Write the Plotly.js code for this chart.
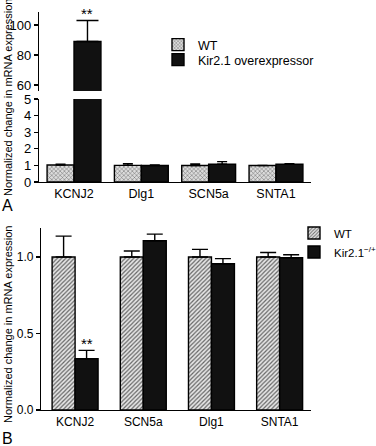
<!DOCTYPE html>
<html>
<head>
<meta charset="utf-8">
<script src="https://cdn.plot.ly/plotly-3.0.1.min.js"></script>
<style>html,body{margin:0;padding:0;background:#fff;}#chart{width:376px;height:446px;}</style>
</head>
<body>
<div id="chart"></div>
<script>
// ---------- Panel A data ----------
const catsA = ["KCNJ2", "Dlg1", "SCN5a", "SNTA1"];
const wtA = [1.02, 1.0, 0.99, 0.99];
const wtA_errTop = [1.07, 1.1, 1.08, 1.0];
const kirA = [89, 0.99, 1.07, 1.07];
const kirA_errTop = [103, 1.03, 1.23, 1.1];
const namesA = ["WT", "Kir2.1 overexpressor"];
const ticksA_low = [0, 1, 2, 3, 4, 5];
const ticksA_high = [60, 80, 100];

// ---------- Panel B data ----------
const catsB = ["KCNJ2", "SCN5a", "Dlg1", "SNTA1"];
const wtB = [1.0, 1.0, 1.0, 1.0];
const wtB_errTop = [1.137, 1.04, 1.05, 1.03];
const kirB = [0.335, 1.107, 0.956, 0.995];
const kirB_errTop = [0.39, 1.15, 0.99, 1.015];
const namesB = ["WT", "Kir2.1<sup>\u2212/+</sup>"];
const ticksB = [0, 0.5, 1.0];

const sig = "**";
const yTitle = "Normalized change in mRNA expression";

const W = 376, H = 446;
const px = v => v / W;
const py = v => 1 - v / H;
const FONT = "Liberation Sans, Arial, sans-serif";

const diff = (top, val) => top.map((t, i) => Math.max(0, t - val[i]));
const zeros = a => a.map(() => 0);

function barTrace(cats, vals, errTop, opts) {
  return Object.assign({
    type: "bar",
    x: cats,
    y: vals,
    error_y: {type: "data", symmetric: false, array: diff(errTop, vals), arrayminus: zeros(vals),
              color: "#000", thickness: 1.4, width: opts.capw || 5},
  }, opts.extra);
}

const wtPatA = {shape: "x", fgcolor: "#666", bgcolor: "#dcdcdc", size: 3, solidity: 0.3};
const wtPatB = {shape: "/", fgcolor: "#666", bgcolor: "#e6e6e6", size: 3, solidity: 0.4};
const lineBlk = {color: "#000", width: 1.4};

const wA = 0.4, wB = 0.337;
const traces = [];
// A lower
traces.push(barTrace(catsA, wtA, wtA_errTop, {capw: 5, extra: {name: namesA[0], xaxis: "x", yaxis: "y", width: wA, offset: -wA,
  marker: {color: "#bbb", pattern: wtPatA, line: lineBlk}, legend: "legend"}}));
traces.push(barTrace(catsA, kirA, kirA_errTop, {capw: 5, extra: {name: namesA[1], xaxis: "x", yaxis: "y", width: wA, offset: 0,
  marker: {color: "#111", line: lineBlk}, legend: "legend2"}}));
// A upper (broken axis)
traces.push(barTrace(catsA, wtA, wtA_errTop, {capw: 11, extra: {name: namesA[0], xaxis: "x", yaxis: "y2", width: wA, offset: -wA,
  marker: {color: "#bbb", pattern: wtPatA, line: lineBlk}, showlegend: false}}));
traces.push(barTrace(catsA, kirA, kirA_errTop, {capw: 11, extra: {name: namesA[1], xaxis: "x", yaxis: "y2", width: wA, offset: 0,
  marker: {color: "#111", line: lineBlk}, showlegend: false}}));
// B
traces.push(barTrace(catsB, wtB, wtB_errTop, {capw: 8, extra: {name: namesB[0], xaxis: "x2", yaxis: "y3", width: wB, offset: -wB,
  marker: {color: "#c4c4c4", pattern: wtPatB, line: lineBlk}, legend: "legend3"}}));
traces.push(barTrace(catsB, kirB, kirB_errTop, {capw: 8, extra: {name: namesB[1], xaxis: "x2", yaxis: "y3", width: wB, offset: 0,
  marker: {color: "#111", line: lineBlk}, legend: "legend4"}}));

const axBase = {showline: true, linecolor: "#000", linewidth: 1.2, showgrid: false, zeroline: false,
  ticks: "outside", ticklen: 4, tickwidth: 1.2, tickcolor: "#000", fixedrange: true};

const legBase = {xanchor: "left", yanchor: "middle", bgcolor: "rgba(0,0,0,0)", font: {size: 12.5}, itemwidth: 30};

const layout = {
  width: W, height: H,
  margin: {l: 0, r: 0, t: 0, b: 0, autoexpand: false},
  paper_bgcolor: "#fff", plot_bgcolor: "rgba(0,0,0,0)",
  barmode: "overlay",
  font: {family: FONT, color: "#000", size: 11},
  xaxis: Object.assign({}, axBase, {domain: [px(39), px(311)], anchor: "y", range: [-0.52, 3.52],
    ticks: "", tickfont: {size: 12.5}, categoryorder: "array", categoryarray: catsA}),
  yaxis: Object.assign({}, axBase, {domain: [py(182), py(99)], anchor: "x", range: [0, 5],
    tickvals: ticksA_low, tickfont: {size: 13}}),
  yaxis2: Object.assign({}, axBase, {domain: [py(91), py(12)], anchor: "x", range: [56, 108.7],
    tickvals: ticksA_high, tickfont: {size: 13}}),
  xaxis2: Object.assign({}, axBase, {domain: [px(41), px(311)], anchor: "y3", range: [-0.5, 3.46],
    ticks: "", tickfont: {size: 12}, categoryorder: "array", categoryarray: catsB}),
  yaxis3: Object.assign({}, axBase, {domain: [py(410), py(228)], anchor: "x2", range: [0, 1.19],
    tickvals: ticksB, tickformat: ".1f", tickfont: {size: 12}}),
  legend: Object.assign({}, legBase, {x: px(158), y: py(45)}),
  legend2: Object.assign({}, legBase, {x: px(158), y: py(60)}),
  legend3: Object.assign({}, legBase, {x: px(294), y: py(233), font: {size: 11.5}}),
  legend4: Object.assign({}, legBase, {x: px(294), y: py(252), font: {size: 11.5}}),
  annotations: [
    {text: sig, xref: "x", yref: "y2", x: wA / 2, y: kirA_errTop[0], yanchor: "bottom", yshift: -3,
      showarrow: false, font: {size: 15}},
    {text: sig, xref: "x2", yref: "y3", x: wB / 2, y: kirB_errTop[0], yanchor: "bottom", yshift: -4,
      showarrow: false, font: {size: 15}},
    {text: yTitle, xref: "paper", yref: "paper", x: px(8), y: py(98), textangle: -90,
      showarrow: false, font: {size: 11}, xanchor: "center", yanchor: "middle"},
    {text: yTitle, xref: "paper", yref: "paper", x: px(8), y: py(325), textangle: -90,
      showarrow: false, font: {size: 11}, xanchor: "center", yanchor: "middle"},
    {text: "A", xref: "paper", yref: "paper", x: px(7), y: py(205), showarrow: false,
      font: {size: 16}, xanchor: "center", yanchor: "middle"},
    {text: "B", xref: "paper", yref: "paper", x: px(7), y: py(438), showarrow: false,
      font: {size: 16}, xanchor: "center", yanchor: "middle"}
  ]
};

Plotly.newPlot("chart", traces, layout, {displayModeBar: false, staticPlot: true});
</script>
</body>
</html>
